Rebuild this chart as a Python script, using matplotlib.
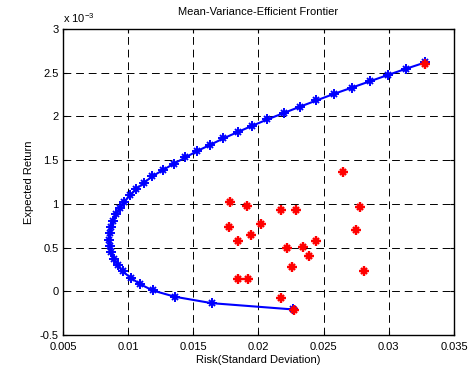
import matplotlib
matplotlib.use("Agg")
import matplotlib.pyplot as plt

plt.rcParams["font.family"] = ["Liberation Sans", "DejaVu Sans"]
plt.rcParams["mathtext.default"] = "regular"

# efficient frontier: risk (std dev) and expected return (x 1e-3)
frontier_risk = [0.02267, 0.01642, 0.01360, 0.01189, 0.01091, 0.01020, 0.00957, 0.00921,
                 0.00888, 0.00869, 0.00858, 0.00853, 0.00858, 0.00869, 0.00884, 0.00907,
                 0.00938, 0.00968, 0.01015, 0.01061, 0.01122, 0.01184, 0.01266, 0.01350,
                 0.01439, 0.01529, 0.01631, 0.01730, 0.01840, 0.01952, 0.02069, 0.02192,
                 0.02318, 0.02445, 0.02576, 0.02714, 0.02853, 0.02991, 0.03134, 0.03280]
frontier_return = [-0.208, -0.136, -0.063, 0.009, 0.082, 0.154, 0.227, 0.299,
                   0.372, 0.444, 0.517, 0.589, 0.662, 0.734, 0.807, 0.879,
                   0.951, 1.024, 1.096, 1.169, 1.241, 1.314, 1.386, 1.459,
                   1.531, 1.604, 1.676, 1.748, 1.821, 1.893, 1.966, 2.038,
                   2.111, 2.183, 2.256, 2.328, 2.401, 2.473, 2.546, 2.618]

# individual assets
asset_risk = [0.02645, 0.0178, 0.0191, 0.0217, 0.0229, 0.01775, 0.0202, 0.0184,
              0.0194, 0.0244, 0.0222, 0.0234, 0.0239, 0.0226, 0.0184, 0.0192,
              0.0217, 0.0227, 0.0328, 0.0278, 0.0275, 0.0281]
asset_return = [1.36, 1.02, 0.98, 0.925, 0.925, 0.74, 0.77, 0.58,
                0.64, 0.58, 0.49, 0.51, 0.40, 0.28, 0.14, 0.135,
                -0.08, -0.21, 2.60, 0.96, 0.70, 0.23]

fig = plt.figure(figsize=(4.74, 3.67), dpi=100)
ax = fig.add_axes([0.1329, 0.0872, 0.8249, 0.8338])


def asterisk(x, y, color, mew, z):
    # MATLAB-style '*': a plus with a cross laid over it
    ax.plot(x, y, linestyle="none", color=color, marker="+",
            markersize=7, markeredgewidth=mew, zorder=z)
    ax.plot(x, y, linestyle="none", color=color, marker="x",
            markersize=5, markeredgewidth=mew, zorder=z)


ax.plot(frontier_risk, frontier_return, color="#0000ff", lw=1.5, zorder=3)
asterisk(frontier_risk, frontier_return, "#0000ff", 1.4, 3)
asterisk(asset_risk, asset_return, "#ff0000", 1.7, 4)

ax.set_xlim(0.005, 0.035)
ax.set_ylim(-0.5, 3)
ax.set_xticks([0.005, 0.01, 0.015, 0.02, 0.025, 0.03, 0.035])
ax.set_xticklabels(["0.005", "0.01", "0.015", "0.02", "0.025", "0.03", "0.035"])
ax.set_yticks([-0.5, 0, 0.5, 1, 1.5, 2, 2.5, 3])
ax.set_yticklabels(["-0.5", "0", "0.5", "1", "1.5", "2", "2.5", "3"])

ax.grid(True, color="black", linestyle=(0, (8, 5)), linewidth=0.7)
ax.set_axisbelow(True)
ax.tick_params(direction="in", top=True, right=True, labelsize=8, length=3)
ax.tick_params(axis="x", pad=5)
ax.tick_params(axis="y", pad=3)
for sp in ax.spines.values():
    sp.set_linewidth(1.0)

ax.set_title("Mean-Variance-Efficient Frontier", fontsize=8, pad=10)
ax.set_xlabel("Risk(Standard Deviation)", fontsize=8, labelpad=2)
ax.set_ylabel("Expected Return", fontsize=8, labelpad=4)
ax.text(0.0, 1.012, "x 10$^{-3}$", transform=ax.transAxes, fontsize=8,
        ha="left", va="bottom")

fig.savefig("out.png", dpi=100)
